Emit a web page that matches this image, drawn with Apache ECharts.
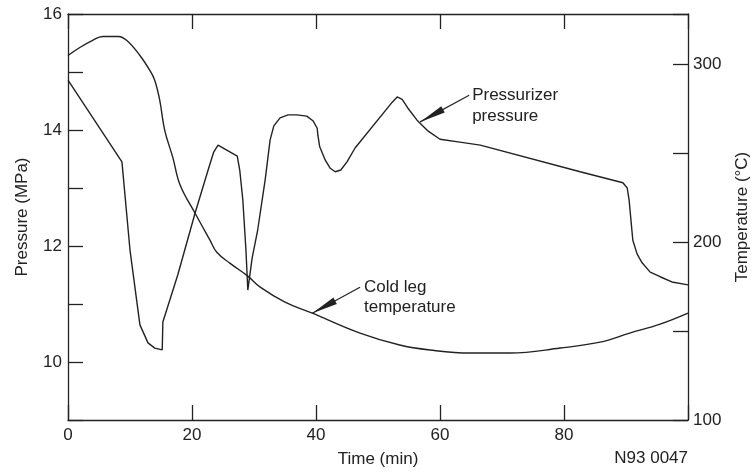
<!DOCTYPE html>
<html>
<head>
<meta charset="utf-8">
<script src="https://cdn.jsdelivr.net/npm/echarts@6/dist/echarts.min.js"></script>
<style>
  html, body { margin: 0; padding: 0; background: #fff; }
  #chart { width: 756px; height: 473px; }
</style>
</head>
<body>
<div id="chart"></div>
<script>
// pressurizer pressure (MPa) vs time (min)
var pressTime = [0, 8.7, 10.0, 11.6, 12.9, 14.0, 15.2, 15.3, 17.7, 20.5, 22.6, 23.5, 24.2, 24.5, 27.3, 27.7,
  28.2, 28.7, 29.0, 29.7, 30.6, 31.8, 32.6, 33.2, 34.2, 35.5, 36.9, 38.5, 39.5, 40.2, 40.3, 40.6, 41.5,
  42.3, 43.1, 44.0, 45.0, 46.3, 52.3, 53.1, 53.9, 54.8, 56.3, 58.1, 60.0, 63.2, 66.5, 82.6, 89.5, 90.2,
  90.5, 91.1, 91.8, 92.6, 93.9, 95.5, 97.4, 100];
var pressure = [14.86, 13.45, 11.93, 10.64, 10.33, 10.24, 10.21, 10.69, 11.50, 12.57, 13.31, 13.62, 13.74, 13.76, 13.55, 13.31,
  12.79, 11.93, 11.24, 11.79, 12.28, 13.14, 13.83, 14.07, 14.21, 14.26, 14.26, 14.24, 14.16, 14.03, 13.91, 13.71, 13.48,
  13.34, 13.28, 13.31, 13.45, 13.69, 14.48, 14.57, 14.53, 14.38, 14.17, 13.98, 13.84, 13.79, 13.74, 13.28, 13.09, 13.00,
  12.79, 12.10, 11.86, 11.71, 11.55, 11.47, 11.38, 11.33];

// cold leg temperature (°C) vs time (min)
var tempTime = [0, 1.9, 3.9, 5.6, 8.1, 9.5, 11.6, 13.2, 14.0, 14.8, 15.6, 16.9, 18.1, 20.5, 22.9, 24.0,
  26.1, 29.0, 31.0, 35.0, 39.4, 47.1, 53.5, 58.4, 64.8, 71.3, 79.4, 85.8, 90.6, 95.5, 100];
var temperature = [304.7, 309.2, 313.1, 315.4, 315.4, 313.1, 304.7, 296.3, 290.7, 279.5, 262.6, 247.5, 231.8, 216.1, 201.0, 194.2,
  188.1, 180.8, 174.6, 166.2, 160.0, 148.8, 142.1, 139.3, 137.6, 137.6, 140.4, 143.7, 148.8, 153.8, 160.0];

var pressureLabel = ["Pressurizer", "pressure"];
var tempLabel = ["Cold leg", "temperature"];

var ink = "#222";
var font = "Liberation Sans";

function pairs(xs, ys) {
  var out = [];
  for (var i = 0; i < xs.length; i++) out.push([xs[i], ys[i]]);
  return out;
}

var chart = echarts.init(document.getElementById("chart"));

var frameLine = { show: true, onZero: false, lineStyle: { color: ink, width: 1.3 } };
var inTick = { show: true, inside: true, length: 15, lineStyle: { color: ink, width: 1.3 } };

var option = {
  backgroundColor: "#fff",
  animation: false,
  textStyle: { fontFamily: font },
  grid: { left: 68, right: 68, top: 14, bottom: 53, containLabel: false, outerBoundsMode: "none" },
  xAxis: [
    {
      type: "value", min: 0, max: 100, interval: 20,
      name: "Time (min)", nameLocation: "middle", nameGap: 31,
      nameTextStyle: { color: ink, fontSize: 17, fontFamily: font },
      axisLine: frameLine, axisTick: inTick, splitLine: { show: false },
      axisLabel: {
        color: ink, fontSize: 17, fontFamily: font, margin: 7,
        formatter: function (v) { return v === 100 ? "" : v; }
      }
    },
    {
      type: "value", position: "top", min: 0, max: 100, interval: 20,
      axisLine: frameLine, axisTick: inTick, splitLine: { show: false },
      axisLabel: { show: false }
    }
  ],
  yAxis: [
    {
      type: "value", min: 9, max: 16, interval: 1,
      name: "Pressure (MPa)", nameLocation: "middle", nameGap: 37, nameRotate: 90,
      nameTextStyle: { color: ink, fontSize: 17, fontFamily: font },
      axisLine: frameLine, axisTick: inTick, splitLine: { show: false },
      axisLabel: {
        color: ink, fontSize: 17, fontFamily: font, margin: 6,
        formatter: function (v) { return v % 2 === 0 ? v : ""; }
      }
    },
    {
      type: "value", position: "right", min: 100, max: 328, interval: 50,
      name: "Temperature (°C)", nameLocation: "middle", nameGap: 46, nameRotate: 90,
      nameTextStyle: { color: ink, fontSize: 17, fontFamily: font },
      axisLine: frameLine, axisTick: inTick, splitLine: { show: false },
      axisLabel: {
        color: ink, fontSize: 17, fontFamily: font, margin: 5,
        formatter: function (v) { return v % 100 === 0 ? v : ""; }
      }
    }
  ],
  series: [
    {
      name: "Pressurizer pressure", type: "line", xAxisIndex: 0, yAxisIndex: 0,
      data: pairs(pressTime, pressure), showSymbol: false,
      lineStyle: { color: ink, width: 1.4 }
    },
    {
      name: "Cold leg temperature", type: "line", xAxisIndex: 0, yAxisIndex: 1,
      data: pairs(tempTime, temperature), showSymbol: false,
      smooth: 0.4,
      lineStyle: { color: ink, width: 1.4 }
    }
  ]
};
chart.setOption(option);

// annotation arrows, anchored in data coordinates
function arrow(from, to) {
  var dx = from[0] - to[0], dy = from[1] - to[1];
  var len = Math.sqrt(dx * dx + dy * dy);
  var ux = dx / len, uy = dy / len;
  var L = 26, W = 3.6;
  var bx = to[0] + ux * L, by = to[1] + uy * L;
  return [
    { type: "line", shape: { x1: from[0], y1: from[1], x2: to[0], y2: to[1] },
      style: { stroke: ink, lineWidth: 1.2 } },
    { type: "polygon", shape: { points: [[to[0], to[1]], [bx - uy * W, by + ux * W], [bx + uy * W, by - ux * W]] },
      style: { fill: ink } }
  ];
}

var pTip = chart.convertToPixel({ xAxisIndex: 0, yAxisIndex: 0 }, [56.8, 14.14]);
var pFrom = chart.convertToPixel({ xAxisIndex: 0, yAxisIndex: 0 }, [64.7, 14.6]);
var tTip = chart.convertToPixel({ xAxisIndex: 0, yAxisIndex: 1 }, [39.4, 160.0]);
var tFrom = chart.convertToPixel({ xAxisIndex: 0, yAxisIndex: 1 }, [47.1, 174.6]);

var graphics = [].concat(arrow(pFrom, pTip), arrow(tFrom, tTip));
graphics.push({
  type: "text", left: pFrom[0] + 3, top: pFrom[1] - 10,
  style: { text: pressureLabel.join("\n"), fill: ink, font: "17px " + font, lineHeight: 21 }
});
graphics.push({
  type: "text", left: tFrom[0] + 4, top: tFrom[1] - 10,
  style: { text: tempLabel.join("\n"), fill: ink, font: "17px " + font, lineHeight: 20 }
});
graphics.push({
  type: "text", right: 68, top: 450,
  style: { text: "N93 0047", fill: ink, font: "17px " + font }
});
chart.setOption({ graphic: graphics });
</script>
</body>
</html>
